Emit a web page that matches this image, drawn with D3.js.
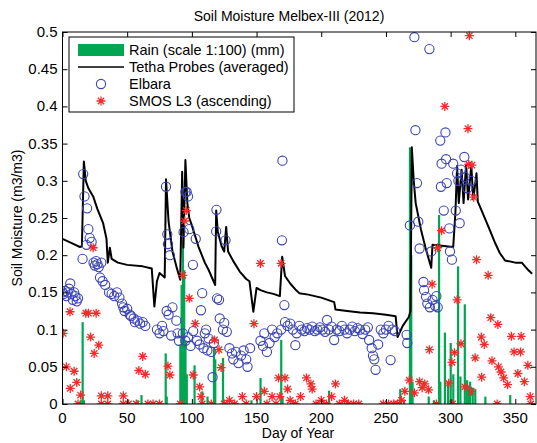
<!DOCTYPE html>
<html>
<head>
<meta charset="utf-8">
<script src="https://cdn.jsdelivr.net/npm/d3@7"></script>
<style>
  html, body { margin: 0; padding: 0; background: #fff; overflow: hidden; }
  svg { display: block; }
  text { font-family: Arial, "Liberation Sans", sans-serif; fill: #000; }
</style>
</head>
<body>
<div id="chart"></div>
<script>
// Rain (scale 1:100) - [day, value]
var rain = [
  [14, 0.005], [15.5, 0.11], [16.5, 0.005], [58, 0.005], [61, 0.012],
  [79.7, 0.068], [80.5, 0.01], [91, 0.08], [92, 0.16], [93, 0.22], [94, 0.18],
  [95, 0.085], [96, 0.04], [102, 0.052], [108, 0.017], [112, 0.01], [117, 0.075],
  [118, 0.06], [124, 0.062], [146, 0.005], [153, 0.035], [169, 0.086], [170, 0.01],
  [178, 0.005], [206, 0.018], [220, 0.004], [261, 0.02], [264, 0.006],
  [268.5, 0.345], [269.5, 0.2], [270.5, 0.03], [283, 0.01], [287, 0.005],
  [291, 0.254], [292, 0.03], [295.5, 0.096], [298, 0.03], [300, 0.082], [302, 0.04],
  [305.7, 0.185], [307.5, 0.037], [310.9, 0.134], [312.6, 0.032], [314, 0.025],
  [315, 0.03], [317, 0.022], [319, 0.02], [326.8, 0.01], [346, 0.012]
];

// Tetha probes (averaged)
var tetha = [
  [0, 0.222], [5, 0.218], [10, 0.214], [13.5, 0.211], [15, 0.212], [16.5, 0.326],
  [18, 0.3], [20, 0.29], [23.7, 0.279], [27, 0.262], [31.4, 0.243], [34, 0.222],
  [35, 0.19], [36.6, 0.21], [38, 0.195], [42.8, 0.19], [50, 0.187], [62, 0.185],
  [69, 0.182], [71, 0.131], [73, 0.165], [75, 0.176], [79, 0.17], [80, 0.302],
  [82, 0.245], [85, 0.205], [88, 0.185], [91, 0.167], [92.5, 0.312], [93.5, 0.21],
  [95, 0.328], [96.5, 0.27], [98, 0.25], [100, 0.24], [105, 0.212], [110, 0.19],
  [113, 0.18], [116, 0.168], [118, 0.16], [118.8, 0.26], [120, 0.232], [123, 0.212],
  [125, 0.205], [126.5, 0.238], [128, 0.205], [132, 0.192], [137, 0.178],
  [142, 0.168], [144.5, 0.165], [147.5, 0.124], [150, 0.156], [153, 0.153],
  [158, 0.15], [163, 0.148], [168, 0.145], [169.8, 0.198], [172, 0.172],
  [176, 0.162], [180, 0.154], [183, 0.149], [190, 0.147], [200, 0.143],
  [210, 0.137], [211, 0.127], [220, 0.125], [230, 0.123], [240, 0.122],
  [250, 0.12], [257.5, 0.118], [259, 0.09], [263, 0.105], [267.7, 0.117],
  [269, 0.125], [270, 0.345], [271.5, 0.3], [273, 0.27], [277, 0.235],
  [280.6, 0.21], [285, 0.183], [286, 0.214], [302, 0.211], [303, 0.238],
  [303.7, 0.257], [305, 0.32], [306.3, 0.27], [308.5, 0.315], [310, 0.27],
  [312, 0.322], [313.5, 0.275], [316, 0.32], [317.5, 0.275], [320, 0.31],
  [321, 0.272], [324, 0.26], [330, 0.235], [334.5, 0.216], [338, 0.203],
  [342, 0.193], [350, 0.19], [355, 0.19], [360, 0.18], [363, 0.175]
];

// Elbara radiometer
var elbara = [
  [0, 0.15], [1, 0.148], [2, 0.152], [3, 0.145], [4, 0.15], [5, 0.155], [6, 0.162],
  [7, 0.148], [8, 0.14], [9, 0.15], [10, 0.145], [11, 0.138], [12, 0.142],
  [15.5, 0.195], [16, 0.309], [17, 0.279], [18.6, 0.214], [19, 0.263], [20, 0.235],
  [21, 0.223], [22.5, 0.218], [24, 0.19], [25, 0.186], [26, 0.192], [27, 0.188],
  [28, 0.184], [29, 0.17], [30, 0.19], [31, 0.165], [33, 0.16],
  [36, 0.15], [38, 0.148], [40, 0.145], [42, 0.15], [44, 0.143], [46, 0.135],
  [47, 0.13], [48, 0.125], [50, 0.128], [52, 0.12], [53, 0.118], [55, 0.115],
  [56, 0.11], [58, 0.112], [60, 0.108], [62, 0.11], [64, 0.105],
  [73, 0.1], [75, 0.095], [77, 0.105], [78, 0.098], [80, 0.292], [80.5, 0.125],
  [81, 0.228], [81.5, 0.215], [82, 0.12], [83, 0.2], [84, 0.092], [85, 0.13],
  [88, 0.112], [89, 0.095], [90, 0.085],
  [93, 0.095], [93.6, 0.231], [95, 0.285], [95, 0.085], [96, 0.285], [97, 0.279],
  [97, 0.09], [98, 0.235], [99, 0.078], [100.8, 0.187], [101, 0.098], [103, 0.222],
  [104, 0.085], [106, 0.08], [107, 0.126], [108, 0.149], [109, 0.075], [110, 0.095],
  [111, 0.1], [112, 0.072], [113, 0.088], [115, 0.07], [116, 0.036], [117, 0.082],
  [118.8, 0.232], [119, 0.261], [119.5, 0.142], [121, 0.14], [121.5, 0.115],
  [124, 0.1], [125, 0.109], [126, 0.22], [127, 0.097], [129, 0.075], [131, 0.068],
  [132, 0.06], [134, 0.07], [136, 0.055], [138, 0.065], [140, 0.072], [142, 0.06],
  [143, 0.05], [145, 0.075], [153, 0.085], [155, 0.078], [156, 0.095], [158, 0.07],
  [160, 0.082], [162, 0.1], [164, 0.09], [166, 0.095], [169, 0.1], [169.6, 0.22],
  [170, 0.327], [171.5, 0.133],
  [172, 0.11], [174, 0.105], [176, 0.108], [178, 0.1], [180, 0.079], [181, 0.095],
  [183, 0.105], [185, 0.1], [187, 0.098], [189, 0.102], [191, 0.1], [193, 0.104],
  [195, 0.098], [197, 0.1], [199, 0.103], [201, 0.1], [203, 0.097], [204.5, 0.113],
  [206, 0.1], [208, 0.104], [210, 0.086], [212, 0.1], [214, 0.098], [216, 0.105],
  [218, 0.1], [220, 0.095], [222, 0.1], [224, 0.104], [226, 0.098], [228, 0.102],
  [230, 0.1], [232, 0.094], [234, 0.1], [236, 0.103], [237, 0.086], [239, 0.075],
  [240, 0.065], [241, 0.06], [242, 0.046], [244, 0.08], [246, 0.1], [248, 0.095],
  [250, 0.1], [252, 0.105], [253.6, 0.059], [255, 0.1], [257, 0.098], [266, 0.093],
  [266.5, 0.082],
  [268.5, 0.24], [272, 0.493], [272.8, 0.368], [274, 0.297], [275, 0.245],
  [276, 0.209], [279, 0.164], [279.5, 0.153], [281, 0.144], [282, 0.135],
  [283.6, 0.477], [284, 0.13], [285, 0.205], [286, 0.14], [288, 0.132],
  [289, 0.145], [290, 0.13], [292, 0.354], [292.5, 0.292], [293, 0.323],
  [294.7, 0.26], [296, 0.365], [296.5, 0.329], [297, 0.297], [299, 0.236],
  [299.5, 0.205], [301, 0.194], [302, 0.323], [304, 0.26], [305, 0.31],
  [306, 0.3], [307, 0.243], [308, 0.315], [310.6, 0.332], [311, 0.305],
  [313, 0.29], [316, 0.3]
];

// SMOS L3 (ascending)
var smos = [
  [0.5, 0.095], [3, 0.05], [5.8, 0.124], [6, 0.021], [9, 0.044], [11, 0.029],
  [12, 0], [14, 0.012], [18, 0.122], [20, 0.122], [21.7, 0.09], [23.7, 0.21],
  [24.5, 0.068], [26, 0.122], [28, 0.079], [30, 0.011], [30, 0], [35, 0.011],
  [35, 0], [47, 0.011], [47, 0], [51, 0], [57, 0], [59, 0.045], [62, 0.064],
  [64, 0.04], [66, 0], [70, 0], [75, 0], [81.5, 0.051], [83, 0.039], [91, 0],
  [93, 0.173], [94.4, 0.246], [95.7, 0.26], [98, 0.142], [101, 0.039],
  [102.6, 0.108], [106, 0.023], [107, 0.01], [108, 0], [115, 0], [117.5, 0.086],
  [121, 0.073], [122.6, 0.049], [125, 0], [129, 0.005], [133, 0], [139, 0.01],
  [142, 0], [148, 0.108], [150, 0.01], [153, 0.189], [156, 0.017], [158, 0],
  [162, 0.01], [165, 0], [167, 0.035], [168, 0.01], [169, 0.189], [172, 0.035],
  [174, 0.02], [176, 0.005], [180, 0], [184, 0.01], [188.6, 0.035], [192, 0.027],
  [193, 0.02], [196, 0], [200, 0.005], [204, 0], [208, 0.01], [211, 0.027],
  [214, 0], [218, 0.005], [221, 0], [225, 0], [229, 0], [248, 0], [252, 0],
  [256, 0], [259, 0], [262, 0.005], [264.6, 0.017], [268, 0.032], [272, 0.015],
  [276, 0.03], [278, 0.022], [280, 0.027], [283, 0.019], [283.6, 0.073],
  [285.7, 0.161], [289, 0], [290, 0.21], [293, 0.233], [295.5, 0.4],
  [298.5, 0.028], [301, 0.056], [301.5, 0], [303, 0.069], [305, 0.14],
  [308, 0.081], [311, 0.023], [313.4, 0.37], [314, 0.322], [314.5, 0.495],
  [316, 0.017], [316.5, 0.321], [317.8, 0.278], [319, 0.062], [320, 0.194],
  [323.7, 0.09], [324, 0.036], [326, 0.08], [329, 0.173], [331, 0.116],
  [332, 0.058], [336, 0], [336.5, 0.107], [337, 0.05], [339, 0.043], [341, 0.035],
  [344, 0.026], [347, 0.091], [349, 0.07], [352, 0.041], [354, 0.07],
  [354.5, 0.091], [357, 0.03], [359.7, 0.052], [361.5, 0.01], [362, 0]
];

var xTicks = [0, 50, 100, 150, 200, 250, 300, 350];
var yTicks = [0, 0.05, 0.1, 0.15, 0.2, 0.25, 0.3, 0.35, 0.4, 0.45, 0.5];
var yTickLabels = ['0', '0.05', '0.1', '0.15', '0.2', '0.25', '0.3', '0.35', '0.4', '0.45', '0.5'];

var legendLabels = ['Rain (scale 1:100) (mm)', 'Tetha Probes (averaged)', 'Elbara', 'SMOS L3 (ascending)'];

// Layout
var width = 537, height = 443;
var margin = {top: 32, right: 1, bottom: 39, left: 62.5};
var innerWidth = width - margin.left - margin.right;
var innerHeight = height - margin.top - margin.bottom;

var green = '#00a651', blue = '#3a44b4', red = '#f42a2a';

var svg = d3.select('#chart').append('svg')
  .attr('width', width)
  .attr('height', height);

var g = svg.append('g')
  .attr('transform', 'translate(' + margin.left + ',' + margin.top + ')');

var x = d3.scaleLinear().domain([0, 366]).range([0, innerWidth]);
var y = d3.scaleLinear().domain([0, 0.5]).range([innerHeight, 0]);

// Clip
svg.append('defs').append('clipPath').attr('id', 'clip')
  .append('rect').attr('x', 0).attr('y', -6).attr('width', innerWidth).attr('height', innerHeight + 6);

var plot = g.append('g').attr('clip-path', 'url(#clip)');

// Rain bars
plot.selectAll('rect.rain')
  .data(rain)
  .enter().append('rect')
  .attr('class', 'rain')
  .attr('x', function (d) { return x(d[0]) - 1; })
  .attr('width', 2.2)
  .attr('y', function (d) { return y(d[1]); })
  .attr('height', function (d) { return y(0) - y(d[1]); })
  .attr('fill', green);

// Tetha line
var line = d3.line()
  .x(function (d) { return x(d[0]); })
  .y(function (d) { return y(d[1]); });

plot.append('path')
  .datum(tetha)
  .attr('d', line)
  .attr('fill', 'none')
  .attr('stroke', '#000')
  .attr('stroke-width', 2)
  .attr('stroke-linejoin', 'round');

// Elbara circles
plot.selectAll('circle.elbara')
  .data(elbara)
  .enter().append('circle')
  .attr('class', 'elbara')
  .attr('cx', function (d) { return x(d[0]); })
  .attr('cy', function (d) { return y(d[1]); })
  .attr('r', 4.6)
  .attr('fill', 'none')
  .attr('stroke', blue)
  .attr('stroke-width', 1.1);

// SMOS asterisks
function star(sel, r) {
  var p = '';
  for (var i = 0; i < 4; i++) {
    var a = i * Math.PI / 4;
    var dx = r * Math.cos(a), dy = r * Math.sin(a);
    p += 'M' + (-dx) + ',' + (-dy) + 'L' + dx + ',' + dy;
  }
  sel.append('path')
    .attr('d', p)
    .attr('stroke', red)
    .attr('stroke-width', 1.3)
    .attr('fill', 'none');
}

plot.selectAll('g.smos')
  .data(smos)
  .enter().append('g')
  .attr('class', 'smos')
  .attr('transform', function (d) { return 'translate(' + x(d[0]) + ',' + y(d[1]) + ')'; })
  .each(function () { star(d3.select(this), 4.5); });

// Axes box
g.append('rect')
  .attr('width', innerWidth)
  .attr('height', innerHeight)
  .attr('fill', 'none')
  .attr('stroke', '#000')
  .attr('stroke-width', 1);

// Tick marks (inward, mirrored on all four sides)
var tickLen = 5;
function ticksOnly(sel) {
  sel.select('.domain').remove();
  sel.selectAll('text').remove();
  sel.selectAll('line').attr('stroke', '#000');
}
g.append('g').attr('transform', 'translate(0,' + innerHeight + ')')
  .call(d3.axisBottom(x).tickValues(xTicks).tickSize(-tickLen)).call(ticksOnly);
g.append('g')
  .call(d3.axisTop(x).tickValues(xTicks).tickSize(-tickLen)).call(ticksOnly);
g.append('g')
  .call(d3.axisLeft(y).tickValues(yTicks).tickSize(-tickLen)).call(ticksOnly);
g.append('g').attr('transform', 'translate(' + innerWidth + ',0)')
  .call(d3.axisRight(y).tickValues(yTicks).tickSize(-tickLen)).call(ticksOnly);

// Tick labels
svg.append('g').selectAll('text')
  .data(xTicks)
  .enter().append('text')
  .attr('x', function (d) { return margin.left + x(d); })
  .attr('y', margin.top + innerHeight + 19)
  .attr('text-anchor', 'middle')
  .style('font-size', '15px')
  .text(function (d) { return d; });

svg.append('g').selectAll('text')
  .data(yTicks)
  .enter().append('text')
  .attr('x', margin.left - 5)
  .attr('y', function (d) { return margin.top + y(d) + 5; })
  .attr('text-anchor', 'end')
  .style('font-size', '15px')
  .text(function (d, i) { return yTickLabels[i]; });

// Title and labels
svg.append('text')
  .attr('x', 289).attr('y', 21)
  .attr('text-anchor', 'middle')
  .style('font-size', '14px')
  .text('Soil Moisture Melbex-III (2012)');

svg.append('text')
  .attr('x', 298).attr('y', 438)
  .attr('text-anchor', 'middle')
  .style('font-size', '14px')
  .text('Day of Year');

svg.append('text')
  .attr('transform', 'translate(22,218) rotate(-90)')
  .attr('text-anchor', 'middle')
  .style('font-size', '14px')
  .text('Soil Moisture (m3/m3)');

// Legend
var legend = svg.append('g').attr('transform', 'translate(69,37)');
legend.append('rect')
  .attr('width', 225).attr('height', 75)
  .attr('fill', '#fff').attr('stroke', '#000').attr('stroke-width', 1);

var rowY = [13, 30, 47, 64];
legend.append('rect').attr('x', 9).attr('y', rowY[0] - 6).attr('width', 46).attr('height', 12).attr('fill', green);
legend.append('line').attr('x1', 9).attr('x2', 55).attr('y1', rowY[1]).attr('y2', rowY[1]).attr('stroke', '#000').attr('stroke-width', 1.3);
legend.append('circle').attr('cx', 32).attr('cy', rowY[2]).attr('r', 4.6).attr('fill', 'none').attr('stroke', blue).attr('stroke-width', 1.1);
legend.append('g').attr('transform', 'translate(32,' + rowY[3] + ')').call(function (s) { star(s, 4.5); });

legend.selectAll('text.lab')
  .data(legendLabels)
  .enter().append('text')
  .attr('class', 'lab')
  .attr('x', 60)
  .attr('y', function (d, i) { return rowY[i] + 5; })
  .style('font-size', '14.5px')
  .text(function (d) { return d; });
</script>
</body>
</html>
